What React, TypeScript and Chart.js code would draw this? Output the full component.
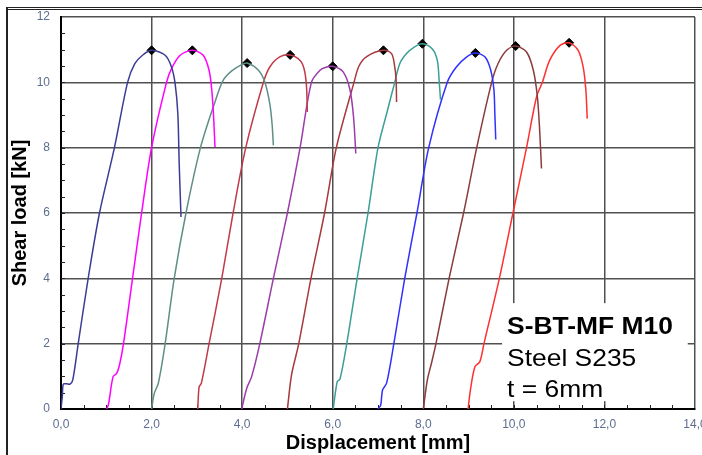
import React, { useEffect, useRef } from 'react';
import { Chart, registerables } from 'chart.js';

Chart.register(...registerables);

// ---- Data (displacement [mm], shear load [kN]) ----
const c1X = [0.0, 0.03, 0.05, 0.12, 0.2, 0.26, 0.38, 0.6, 0.85, 1.18, 1.47, 1.63, 1.8, 2.0, 2.3, 2.44, 2.52, 2.58, 2.61, 2.65];
const c1Y = [0.0, 0.4, 0.76, 0.77, 0.76, 0.89, 2.0, 4.0, 6.0, 8.0, 10.0, 10.57, 10.83, 10.98, 10.83, 10.47, 9.96, 9.04, 7.51, 5.88];

const c2X = [1.01, 1.05, 1.15, 1.23, 1.3, 1.38, 1.58, 1.78, 2.0, 2.33, 2.44, 2.63, 2.9, 3.14, 3.27, 3.33, 3.37, 3.4];
const c2Y = [0.0, 0.15, 0.99, 1.09, 1.4, 2.0, 4.0, 6.0, 8.0, 10.0, 10.42, 10.83, 10.98, 10.83, 10.37, 9.76, 8.94, 8.02];

const c3X = [2.0, 2.06, 2.15, 2.3, 2.5, 2.76, 3.08, 3.4, 3.58, 3.77, 3.99, 4.11, 4.36, 4.5, 4.61, 4.66, 4.69];
const c3Y = [0.0, 0.48, 0.79, 2.0, 4.0, 6.0, 8.0, 9.4, 10.06, 10.35, 10.54, 10.59, 10.37, 10.01, 9.35, 8.74, 8.07];

const c4X = [3.02, 3.05, 3.1, 3.27, 3.55, 3.8, 4.08, 4.47, 4.61, 4.83, 5.06, 5.28, 5.37, 5.42, 5.44];
const c4Y = [0.0, 0.68, 0.79, 2.0, 4.0, 6.0, 8.0, 10.0, 10.47, 10.78, 10.84, 10.67, 10.4, 9.9, 9.09];

const c5X = [3.99, 4.1, 4.21, 4.39, 4.69, 5.0, 5.28, 5.53, 5.72, 5.85, 6.0, 6.23, 6.38, 6.46, 6.51];
const c5Y = [0.0, 0.63, 0.99, 2.0, 4.0, 6.0, 8.0, 10.0, 10.37, 10.46, 10.49, 10.32, 9.78, 8.94, 7.82];

const c6X = [5.0, 5.09, 5.25, 5.52, 5.82, 6.08, 6.47, 6.58, 6.75, 7.12, 7.3, 7.37, 7.4, 7.41];
const c6Y = [0.0, 1.04, 2.0, 4.0, 6.0, 8.0, 10.0, 10.5, 10.79, 10.98, 10.88, 10.47, 10.06, 9.4];

const c7X = [6.01, 6.1, 6.16, 6.31, 6.54, 6.78, 7.0, 7.19, 7.37, 7.48, 7.63, 7.8, 7.98, 8.2, 8.31, 8.35, 8.38];
const c7Y = [0.0, 0.84, 0.91, 2.0, 4.0, 6.0, 8.0, 9.04, 10.0, 10.57, 10.88, 11.08, 11.18, 11.02, 10.67, 10.06, 9.47];

const c8X = [7.0, 7.06, 7.1, 7.19, 7.35, 7.59, 7.86, 8.12, 8.53, 8.73, 8.96, 9.15, 9.36, 9.49, 9.56, 9.58, 9.6];
const c8Y = [0.0, 0.12, 0.58, 0.79, 2.0, 4.0, 6.0, 8.0, 10.0, 10.47, 10.78, 10.9, 10.78, 10.37, 9.76, 9.04, 8.25];

const c9X = [8.0, 8.09, 8.18, 8.28, 8.57, 8.89, 9.18, 9.51, 9.65, 9.84, 10.04, 10.28, 10.43, 10.52, 10.57, 10.61];
const c9Y = [0.0, 0.89, 1.4, 2.0, 4.0, 6.0, 8.0, 10.0, 10.57, 10.98, 11.11, 10.93, 10.37, 9.55, 8.53, 7.36];

const c10X = [8.99, 9.04, 9.14, 9.25, 9.34, 9.68, 9.98, 10.28, 10.5, 10.63, 10.79, 11.02, 11.22, 11.42, 11.53, 11.59, 11.62];
const c10Y = [0.0, 0.58, 1.29, 1.45, 2.0, 4.0, 6.0, 8.0, 9.55, 10.0, 10.67, 11.13, 11.21, 10.98, 10.47, 9.76, 8.89];

const curveXs = [c1X, c2X, c3X, c4X, c5X, c6X, c7X, c8X, c9X, c10X];
const curveYs = [c1Y, c2Y, c3Y, c4Y, c5Y, c6Y, c7Y, c8Y, c9Y, c10Y];
const curveColors = ['#3c3c96', '#ff00ff', '#5e8f86', '#c03a4a', '#9c3caa', '#a8383c', '#3aa096', '#3030ff', '#8a3c3c', '#ff3030'];

const xTickLabels = ['0,0', '2,0', '4,0', '6,0', '8,0', '10,0', '12,0', '14,0'];
const yTickLabels = ['0', '2', '4', '6', '8', '10', '12'];

const xTitle = 'Displacement [mm]';
const yTitle = 'Shear load [kN]';
const boxLines = ['S-BT-MF M10', 'Steel S235', 't = 6mm'];

const FONT = '"Liberation Sans", Arial, sans-serif';

const decorPlugin = {
  id: 'decor',
  beforeDatasetsDraw(chart: any) {
    const ctx = chart.ctx;
    const xs = chart.scales.x;
    const ys = chart.scales.y;
    const area = chart.chartArea;
    ctx.save();
    // minor ticks inside the plot
    ctx.strokeStyle = '#222';
    ctx.lineWidth = 1;
    for (let v = 0.5; v < 14; v += 0.5) {
      const px = Math.round(xs.getPixelForValue(v)) + 0.5;
      ctx.beginPath();
      ctx.moveTo(px, area.bottom);
      ctx.lineTo(px, area.bottom - 4);
      ctx.stroke();
    }
    for (let v = 0.5; v < 12; v += 0.5) {
      const py = Math.round(ys.getPixelForValue(v)) + 0.5;
      ctx.beginPath();
      ctx.moveTo(area.left, py);
      ctx.lineTo(area.left + 4, py);
      ctx.stroke();
    }
    // annotation box
    const bx0 = xs.getPixelForValue(9.74);
    const bx1 = xs.getPixelForValue(13.84);
    const by0 = ys.getPixelForValue(3.24);
    const by1 = ys.getPixelForValue(0.24);
    ctx.fillStyle = '#ffffff';
    ctx.fillRect(bx0, by0, bx1 - bx0, by1 - by0);
    ctx.fillStyle = '#000000';
    ctx.textBaseline = 'alphabetic';
    ctx.textAlign = 'left';
    const tx = bx0 + 5;
    const base = [by0 + 31, by0 + 63, by0 + 94];
    boxLines.forEach((line, i) => {
      ctx.save();
      ctx.translate(tx, base[i]);
      ctx.scale(1.1, 1);
      ctx.font = (i === 0 ? 'bold ' : '') + '24px ' + FONT;
      ctx.fillText(line, 0, 0);
      ctx.restore();
    });
    ctx.restore();
  },
  afterDraw(chart: any) {
    const ctx = chart.ctx;
    ctx.save();
    ctx.fillStyle = '#222';
    ctx.fillRect(6, 7, 2, 448);
    ctx.fillRect(6, 7, 696, 1);
    ctx.fillRect(6, 9, 696, 1);
    ctx.restore();
  },
};

export default function App() {
  const ref = useRef<HTMLCanvasElement | null>(null);

  useEffect(() => {
    if (!ref.current) return;
    const datasets: any[] = curveXs.map((xsArr, i) => ({
      label: 'Test ' + (i + 1),
      data: xsArr.map((x, j) => ({ x, y: curveYs[i][j] })),
      borderColor: curveColors[i],
      backgroundColor: curveColors[i],
      borderWidth: 1.5,
      pointRadius: 0,
      showLine: true,
      tension: 0.3,
      fill: false,
    }));
    const peaks = curveXs.map((xsArr, i) => {
      const ys = curveYs[i];
      let k = 0;
      ys.forEach((v, j) => { if (v > ys[k]) k = j; });
      return { x: xsArr[k], y: ys[k] };
    });
    datasets.push({
      label: 'Peaks',
      data: peaks,
      showLine: false,
      pointStyle: 'rectRot',
      pointRadius: 4.5,
      backgroundColor: '#000',
      borderColor: '#000',
      borderWidth: 1,
    });

    const chart = new Chart(ref.current, {
      type: 'scatter',
      data: { datasets },
      options: {
        animation: false,
        responsive: false,
        devicePixelRatio: 1,
        layout: { padding: { top: 17, right: 7, left: 0, bottom: 0 } },
        plugins: { legend: { display: false }, tooltip: { enabled: false } },
        scales: {
          x: {
            type: 'linear',
            min: 0,
            max: 14,
            afterFit: (s: any) => { s.height = 46; s.paddingLeft = 0; s.paddingRight = 0; },
            ticks: {
              stepSize: 2,
              padding: 8,
              color: '#5d6d8e',
              font: { family: FONT, size: 12 },
              callback: (v: any, i: number) => xTickLabels[i],
              maxRotation: 0,
            },
            grid: { color: '#505050', lineWidth: 1.5, drawTicks: false },
            border: { color: '#000', width: 2 },
            title: {
              display: true,
              text: xTitle,
              color: '#000',
              font: { family: FONT, size: 20, weight: 'bold' },
              padding: { top: 0, bottom: 0 },
            },
          },
          y: {
            type: 'linear',
            min: 0,
            max: 12,
            afterFit: (s: any) => { s.width = 61; s.paddingTop = 0; s.paddingBottom = 0; },
            ticks: {
              stepSize: 2,
              padding: 11,
              color: '#5d6d8e',
              font: { family: FONT, size: 12 },
              callback: (v: any, i: number) => yTickLabels[i],
            },
            grid: { color: '#505050', lineWidth: 1.5, drawTicks: false },
            border: { color: '#000', width: 2 },
            title: {
              display: true,
              text: yTitle,
              color: '#000',
              font: { family: FONT, size: 20, weight: 'bold' },
              padding: { top: 8, bottom: 0 },
            },
          },
        },
      },
      plugins: [decorPlugin],
    });
    return () => chart.destroy();
  }, []);

  return (
    <div style={{ position: 'absolute', left: 0, top: 0, width: 702, height: 455, background: '#fff' }}>
      <canvas ref={ref} width={702} height={455} style={{ width: 702, height: 455, display: 'block' }} />
    </div>
  );
}
